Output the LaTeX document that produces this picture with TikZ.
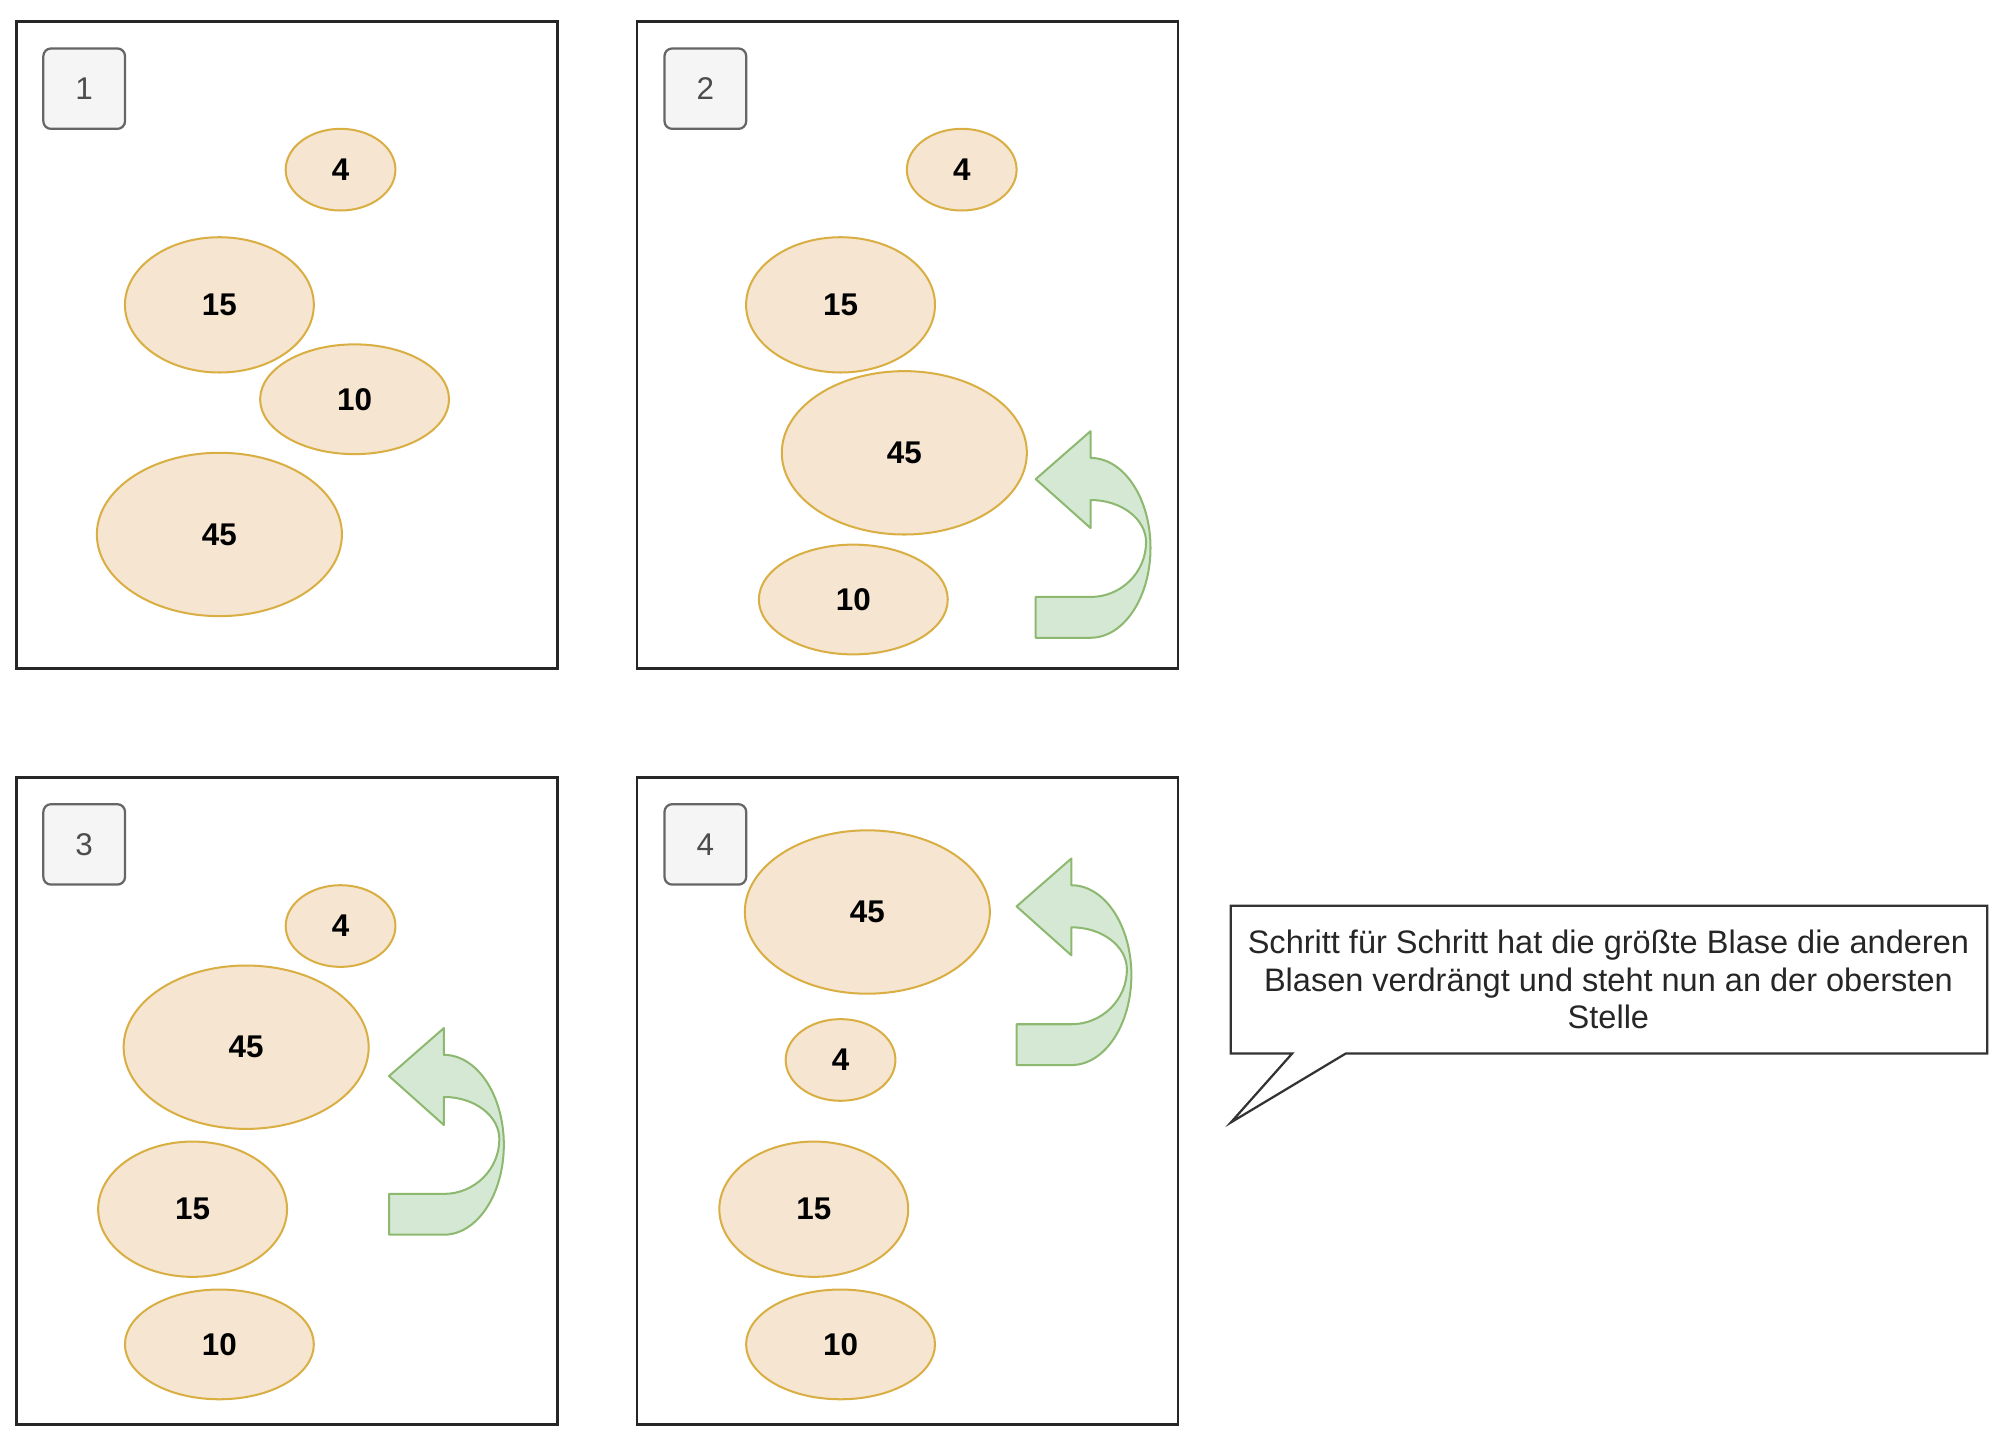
\documentclass[tikz,border=0pt]{standalone}
\usepackage{fontspec}
\setmainfont{Liberation Sans}
\usetikzlibrary{shapes.geometric}
\definecolor{blobfill}{HTML}{F6E6D1}
\definecolor{blobline}{HTML}{D9AE43}
\definecolor{turnfill}{HTML}{D5E8D4}
\definecolor{turnline}{HTML}{8DB870}
\definecolor{tagfill}{HTML}{F5F5F5}
\tikzset{
  panel/.style={draw=black!85, line width=0.6pt, minimum width=4.24cm, minimum height=5.07cm, inner sep=0pt},
  tag/.style={draw=black!60, fill=tagfill, line width=0.5pt, rounded corners=1.7pt, minimum width=0.64cm, minimum height=0.63cm, text=black!70, font=\fontsize{7}{8}\selectfont},
  blob/.style={ellipse, draw=blobline, fill=blobfill, line width=0.45pt, inner sep=0pt, font=\bfseries\fontsize{7}{8}\selectfont},
  blobS/.style={blob, minimum width=0.86cm, minimum height=0.64cm},
  blobM/.style={blob, minimum width=1.48cm, minimum height=1.06cm},
  blobW/.style={blob, minimum width=1.48cm, minimum height=0.86cm},
  blobL/.style={blob, minimum width=1.92cm, minimum height=1.28cm},
  uturn/.pic={
    \draw[turnline, fill=turnfill, line width=0.45pt, line join=round]
      (0,37.6) -- (43,0) -- (43,21)
      arc[start angle=-90, end angle=90, x radius=47, y radius=70.5]
      -- (0,162) -- (0,130) -- (43,130)
      arc[start angle=90, end angle=0, x radius=43.5, y radius=43]
      arc[start angle=0, end angle=-90, x radius=43.5, y radius=33]
      -- (43,76) -- cycle;
  }
}
\begin{document}
\begin{tikzpicture}[x=0.01cm, y=-0.01cm]
\useasboundingbox (0,0) rectangle (1568,1132);
% panels
\node[panel] (p1) at (225,270.5) {};
\node[panel] (p2) at (711.5,270.5) {};
\node[panel] (p3) at (225,863) {};
\node[panel] (p4) at (711.5,863) {};
\node[tag] (t1) at (66,69.5) {1};
\node[tag] (t2) at (553,69.5) {2};
\node[tag] (t3) at (66,662) {3};
\node[tag] (t4) at (553,662) {4};
% step 1
\node[blobS] (a4) at (267,133) {4};
\node[blobM] (a15) at (172,239) {15};
\node[blobW] (a10) at (278,313) {10};
\node[blobL] (a45) at (172,419) {45};
% step 2
\node[blobS] (b4) at (754,133) {4};
\node[blobM] (b15) at (659,239) {15};
\node[blobL] (b45) at (709,355) {45};
\node[blobW] (b10) at (669,470) {10};
\pic at (812,338) {uturn};
% step 3
\node[blobS] (c4) at (267,726) {4};
\node[blobL] (c45) at (193,821) {45};
\node[blobM] (c15) at (151,948) {15};
\node[blobW] (c10) at (172,1054) {10};
\pic at (305,806) {uturn};
% step 4
\node[blobL] (d45) at (680,715) {45};
\node[blobS] (d4) at (659,831) {4};
\node[blobM] (d15) at (638,948) {15};
\node[blobW] (d10) at (659,1054) {10};
\pic at (797,673) {uturn};
% callout
\draw[black!80, line width=0.5pt, fill=white] (965,710) -- (1558,710) -- (1558,826) -- (1055,826)
  -- (965,880) -- (1013,826) -- (965,826) -- cycle;
\node[align=center, text=black!85, font=\fontsize{7.25}{8.4}\selectfont, inner sep=0pt] (note) at (1261,768)
  {Schritt für Schritt hat die größte Blase die anderen\\Blasen verdrängt und steht nun an der obersten\\Stelle};
\end{tikzpicture}
\end{document}
